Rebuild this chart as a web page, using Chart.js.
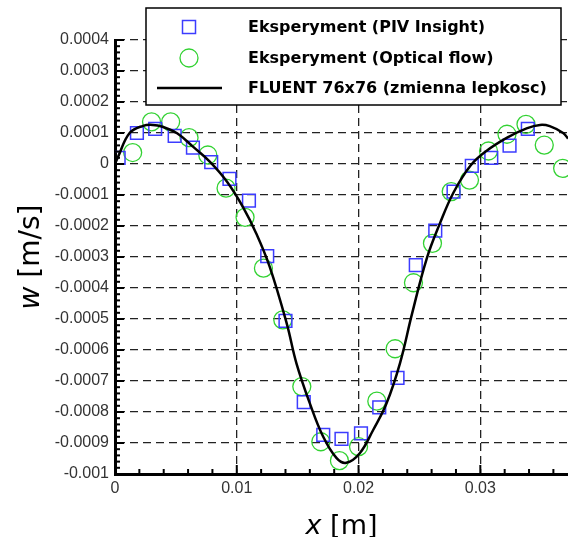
<!DOCTYPE html>
<html>
<head>
<meta charset="utf-8">
<script src="https://cdn.jsdelivr.net/npm/chart.js@4.4.1/dist/chart.umd.min.js"></script>
<style>
  html, body { margin: 0; padding: 0; background: #fff; }
</style>
</head>
<body>
<canvas id="w-chart" width="568" height="537"></canvas>
<script>
// PIV Insight measurements
const pivX = [0.0003, 0.0018, 0.0033, 0.0049, 0.0064, 0.0079, 0.0094, 0.0110, 0.0125, 0.0140, 0.0155, 0.0171,
    0.0186, 0.0202, 0.0217, 0.0232, 0.0247, 0.0263, 0.0278, 0.0293, 0.0309, 0.0324, 0.0339];
const pivW = [0.00002, 0.0001, 0.000113, 0.000091, 0.000053, 0.000006, -0.000048, -0.000118, -0.000297, -0.000506,
    -0.000768, -0.000874, -0.000887, -0.000869, -0.000785, -0.00069, -0.000326, -0.000215, -0.000089, -0.000006,
    0.00002, 0.000059, 0.000113];

// optical flow measurements
const flowX = [0.00145, 0.0030, 0.00457, 0.00608, 0.00762, 0.00912, 0.01068, 0.01219, 0.01378, 0.01534, 0.0169,
    0.01843, 0.0200, 0.0215, 0.0230, 0.02451, 0.02607, 0.02761, 0.02911, 0.03067, 0.03219, 0.03375, 0.03525, 0.03676];
const flowW = [0.000037, 0.000136, 0.000136, 0.000085, 0.000029, -0.000078, -0.000172, -0.000336, -0.000503,
    -0.000718, -0.000896, -0.000957, -0.000912, -0.000765, -0.000596, -0.000383, -0.000256, -0.000089, -0.000052,
    0.000042, 0.000096, 0.000128, 0.000061, -0.000014];

// FLUENT 76x76 profile
const fluentX = [0, 0.00025, 0.0012, 0.0023, 0.0031, 0.0039, 0.0051, 0.0064, 0.0078, 0.0092, 0.0105, 0.0116,
    0.0127, 0.0141, 0.0149, 0.0160, 0.0171, 0.0182, 0.0190, 0.0201, 0.0212, 0.0223, 0.0234, 0.0244, 0.0256,
    0.0267, 0.0278, 0.0292, 0.0305, 0.0322, 0.0338, 0.0349, 0.0357, 0.0368, 0.0372];
const fluentW = [0, 0.000023, 0.0001, 0.000123, 0.000126, 0.00012, 0.000099, 0.000056, 0.000007, -0.000057,
    -0.000138, -0.000224, -0.000331, -0.000514, -0.000643, -0.000772, -0.00088, -0.000949, -0.000964, -0.000933,
    -0.000858, -0.000772, -0.000643, -0.000482, -0.000305, -0.00019, -0.000092, -0.000005, 0.000042, 0.000085,
    0.000115, 0.000126, 0.000122, 0.0001, 0.000082];

const seriesNames = ['Eksperyment (PIV Insight)', 'Eksperyment (Optical flow)', 'FLUENT 76x76 (zmienna lepkosc)'];
const xTicks = [0, 0.01, 0.02, 0.03];
const xMin = 0, xMax = 0.0372;
const yMin = -0.001, yMax = 0.0004;

const toPoints = (xs, ys) => xs.map((x, i) => ({ x: x, y: ys[i] }));

const tickFont = { family: 'Liberation Sans', size: 16 };

// inward ticks, axis titles and the boxed legend
const extras = {
    id: 'extras',
    afterDraw(chart) {
        const ctx = chart.ctx;
        const xs = chart.scales.x, ys = chart.scales.y;
        const area = chart.chartArea;
        ctx.save();
        ctx.strokeStyle = '#000';
        ctx.lineWidth = 2;
        for (let i = 0; i * 0.002 <= xMax; i++) {
            const px = xs.getPixelForValue(i * 0.002);
            const len = i % 5 === 0 ? 9 : 5;
            ctx.beginPath();
            ctx.moveTo(px, area.bottom);
            ctx.lineTo(px, area.bottom - len);
            ctx.stroke();
        }
        for (let i = 0; i <= 70; i++) {
            const py = ys.getPixelForValue(yMin + i * 0.00002);
            const len = i % 5 === 0 ? 9 : 5;
            ctx.beginPath();
            ctx.moveTo(area.left, py);
            ctx.lineTo(area.left + len, py);
            ctx.stroke();
        }

        // axis titles
        ctx.fillStyle = '#000';
        ctx.textBaseline = 'alphabetic';
        const drawTitle = (v, rest, size) => {
            ctx.font = 'italic ' + size + 'px "DejaVu Sans"';
            const w1 = ctx.measureText(v).width;
            ctx.font = size + 'px "DejaVu Sans"';
            const w2 = ctx.measureText(rest).width;
            const x0 = -(w1 + w2) / 2;
            ctx.font = 'italic ' + size + 'px "DejaVu Sans"';
            ctx.textAlign = 'left';
            ctx.fillText(v, x0, 0);
            ctx.font = size + 'px "DejaVu Sans"';
            ctx.fillText(rest, x0 + w1, 0);
        };
        ctx.save();
        ctx.translate((area.left + area.right) / 2, 534);
        drawTitle('x', ' [m]', 27);
        ctx.restore();
        ctx.save();
        ctx.translate(39, (area.top + area.bottom) / 2);
        ctx.rotate(-Math.PI / 2);
        drawTitle('w', ' [m/s]', 28);
        ctx.restore();

        // legend box
        const bx = 146, by = 8, bw = 415, bh = 97;
        ctx.fillStyle = '#fff';
        ctx.fillRect(bx, by, bw, bh);
        ctx.lineWidth = 1.5;
        ctx.strokeStyle = '#000';
        ctx.strokeRect(bx, by, bw, bh);
        const rows = [27, 58, 88];
        const ds = chart.data.datasets;
        ctx.font = 'bold 16px "DejaVu Sans"';
        ctx.textBaseline = 'middle';
        ctx.textAlign = 'left';
        ds.forEach((d, i) => {
            const cy = rows[i];
            ctx.strokeStyle = d.borderColor;
            if (d.showLine) {
                ctx.lineWidth = d.borderWidth;
                ctx.beginPath();
                ctx.moveTo(157, cy);
                ctx.lineTo(222, cy);
                ctx.stroke();
            } else if (d.pointStyle === 'rect') {
                ctx.lineWidth = d.pointBorderWidth;
                ctx.strokeRect(182.5, cy - 6.5, 13, 13);
            } else {
                ctx.lineWidth = d.pointBorderWidth;
                ctx.beginPath();
                ctx.arc(189, cy, 9, 0, Math.PI * 2);
                ctx.stroke();
            }
            ctx.fillStyle = '#000';
            ctx.fillText(d.label, 248, cy + 1);
        });
        ctx.restore();
    }
};

new Chart(document.getElementById('w-chart'), {
    type: 'scatter',
    data: {
        datasets: [{
            label: seriesNames[0],
            data: toPoints(pivX, pivW),
            pointStyle: 'rect',
            pointRadius: 9,
            pointBorderWidth: 1.5,
            borderColor: 'rgb(60, 60, 255)',
            pointBorderColor: 'rgb(60, 60, 255)',
            backgroundColor: 'rgba(0, 0, 0, 0)',
            order: 2
        }, {
            label: seriesNames[1],
            data: toPoints(flowX, flowW),
            pointStyle: 'circle',
            pointRadius: 9,
            pointBorderWidth: 1.3,
            borderColor: 'rgb(50, 210, 50)',
            pointBorderColor: 'rgb(50, 210, 50)',
            backgroundColor: 'rgba(0, 0, 0, 0)',
            order: 3
        }, {
            label: seriesNames[2],
            data: toPoints(fluentX, fluentW),
            showLine: true,
            pointRadius: 0,
            borderWidth: 2.5,
            borderColor: '#000',
            tension: 0.4,
            order: 1
        }]
    },
    options: {
        responsive: false,
        animation: false,
        events: [],
        layout: { padding: { top: 40, left: 0, right: 0, bottom: 0 }, autoPadding: false },
        plugins: { legend: { display: false }, tooltip: { enabled: false } },
        scales: {
            x: {
                type: 'linear',
                min: xMin,
                max: xMax,
                afterFit(scale) { scale.height = 63; },
                afterBuildTicks(scale) { scale.ticks = xTicks.map(v => ({ value: v })); },
                ticks: {
                    font: tickFont,
                    color: '#333',
                    padding: 5,
                    maxRotation: 0,
                    callback: v => String(Number(v.toFixed(3)))
                },
                grid: { color: '#222', lineWidth: 1.3, drawTicks: false },
                border: { display: true, color: '#000', width: 3, dash: [8, 5] }
            },
            y: {
                type: 'linear',
                min: yMin,
                max: yMax,
                afterFit(scale) { scale.width = 115; },
                ticks: {
                    stepSize: 0.0001,
                    includeBounds: false,
                    font: tickFont,
                    color: '#333',
                    padding: 6,
                    callback: v => String(Number(v.toFixed(4)))
                },
                grid: { color: '#222', lineWidth: 1.3, drawTicks: false },
                border: { display: true, color: '#000', width: 3, dash: [8, 5] }
            }
        }
    },
    plugins: [extras]
});
</script>
</body>
</html>
